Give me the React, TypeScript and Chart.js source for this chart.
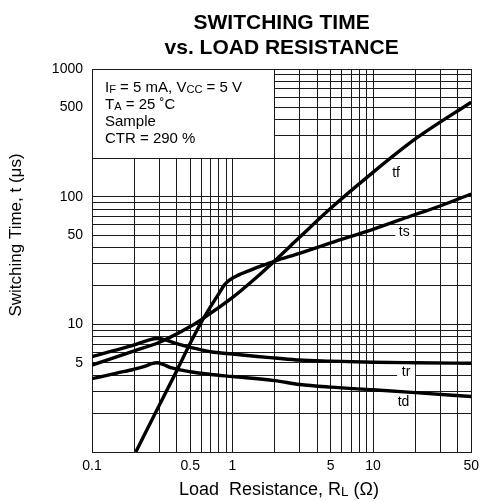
import { useEffect, useRef } from "react"
import { Chart, registerables } from "chart.js"

Chart.register(...registerables)

const FONT = '"Liberation Sans", Arial, Helvetica, sans-serif'

// load resistance (x) and switching time (y)
const tfX = [0.1, 0.2, 0.3, 0.5, 0.6, 0.97, 1.5, 2, 3, 5, 10, 20, 50]
const tfY = [4.8, 6.2, 7.2, 9.6, 10.9, 15.8, 23.6, 31.5, 48, 81, 155, 283, 550]

const tsX = [0.205, 0.3, 0.4, 0.5, 0.6, 0.7, 0.8, 0.87, 0.95, 1.1, 1.3, 1.6, 1.85, 2, 3, 5, 10, 20, 30, 50]
const tsY = [1.0, 2.3, 4.3, 7.1, 10.4, 13.8, 17.4, 20.2, 22.2, 24.3, 26.2, 28.7, 30.3, 31.3, 36, 43.4, 55.5, 72.5, 84.5, 105]

const trX = [0.1, 0.15, 0.2, 0.25, 0.29, 0.33, 0.38, 0.45, 0.55, 0.7, 1, 1.5, 2, 3, 5, 10, 20, 50]
const trY = [5.6, 6.3, 6.9, 7.5, 7.75, 7.6, 7.2, 6.8, 6.45, 6.1, 5.85, 5.6, 5.45, 5.25, 5.15, 5.05, 5.0, 4.95]

const tdX = [0.1, 0.15, 0.2, 0.24, 0.27, 0.29, 0.32, 0.37, 0.5, 0.7, 1, 2, 3, 5, 10, 20, 50]
const tdY = [3.75, 4.15, 4.45, 4.7, 4.95, 5.0, 4.85, 4.55, 4.25, 4.05, 3.9, 3.62, 3.38, 3.22, 3.07, 2.92, 2.72]

const xTickLabels = [0.1, 0.5, 1, 5, 10, 50]
const yTickLabels = [5, 10, 50, 100, 500, 1000]

// curve names and where they sit (data coords)
const curveLabels = ["tf", "ts", "tr", "td"]
const curveLabelX = [14.6, 16.7, 17.2, 16.5]
const curveLabelY = [152, 53.2, 4.26, 2.44]
const curveLabelBoxed = [false, true, true, true]

// condition box: spans x 0.1..2, y 200..1000
const boxX = [0.1, 2]
const boxY = [200, 1000]

type Part = [string, boolean?]
const conditionLines: Part[][] = [
  [["I"], ["F", true], [" = 5 mA, V"], ["CC", true], [" = 5 V"]],
  [["T"], ["A", true], [" = 25 \u02DAC"]],
  [["Sample"]],
  [["CTR = 290 %"]],
]

function logGrid(min: number, max: number) {
  const out: number[] = []
  for (let e = -2; e <= 4; e++) {
    for (let m = 1; m <= 9; m++) {
      const v = Number((m * Math.pow(10, e)).toPrecision(6))
      if (v >= min - 1e-9 && v <= max + 1e-9) out.push(v)
    }
  }
  return out
}

const xGrid = logGrid(0.1, 50)
const yGrid = logGrid(1, 1000)

const isLabel = (list: number[], v: number) => list.find((l) => Math.abs(l - v) / l < 1e-6)

function richWidth(ctx: CanvasRenderingContext2D, parts: Part[], size: number) {
  let w = 0
  for (const [t, sub] of parts) {
    ctx.font = `${sub ? size * 0.74 : size}px ${FONT}`
    w += ctx.measureText(t).width
  }
  return w
}

function drawRich(ctx: CanvasRenderingContext2D, parts: Part[], x: number, y: number, size: number) {
  let cx = x
  ctx.textAlign = "left"
  ctx.textBaseline = "alphabetic"
  for (const [t, sub] of parts) {
    ctx.font = `${sub ? size * 0.74 : size}px ${FONT}`
    ctx.fillText(t, cx, sub ? y + 1 : y)
    cx += ctx.measureText(t).width
  }
}

const lineStart = (p: number) => Math.round(p - 0.5)

const overlay = {
  id: "overlay",
  beforeDatasetsDraw(chart: any) {
    const { ctx, chartArea, scales } = chart
    const xs = scales.x
    const ys = scales.y
    ctx.save()
    // white condition box over the grid
    const x0 = lineStart(xs.getPixelForValue(boxX[0])) + 1
    const x1 = lineStart(xs.getPixelForValue(boxX[1]))
    const y0 = lineStart(ys.getPixelForValue(boxY[1])) + 1
    const y1 = lineStart(ys.getPixelForValue(boxY[0]))
    ctx.fillStyle = "#fff"
    ctx.fillRect(x0, y0, x1 - x0, y1 - y0)
    ctx.fillStyle = "#000"
    conditionLines.forEach((parts, i) => {
      drawRich(ctx, parts, chartArea.left + 13, chartArea.top + 23 + i * 16.9, 15)
    })
    // curve labels
    ctx.font = `14px ${FONT}`
    ctx.textAlign = "center"
    ctx.textBaseline = "middle"
    curveLabels.forEach((name, i) => {
      const px = xs.getPixelForValue(curveLabelX[i])
      const py = ys.getPixelForValue(curveLabelY[i])
      if (curveLabelBoxed[i]) {
        ctx.fillStyle = "#fff"
        ctx.fillRect(px - 9, py - 6, 18, 12)
      }
      ctx.fillStyle = "#000"
      ctx.fillText(name, px, py)
    })
    ctx.restore()
  },
  afterDraw(chart: any) {
    const { ctx, chartArea } = chart
    ctx.save()
    ctx.fillStyle = "#000"
    const cx = (chartArea.left + chartArea.right) / 2
    ctx.font = `bold 21px ${FONT}`
    ctx.textAlign = "center"
    ctx.textBaseline = "alphabetic"
    ctx.fillText("SWITCHING TIME", cx, 28.5)
    ctx.fillText("vs. LOAD RESISTANCE", cx, 53.5)

    // x axis title
    const xt: Part[] = [["Load  Resistance, R"], ["L", true], [" (\u03A9)"]]
    const w = richWidth(ctx, xt, 18)
    drawRich(ctx, xt, 279 - w / 2, 495, 18)

    // y axis title
    ctx.translate(20.5, 235)
    ctx.rotate(-Math.PI / 2)
    ctx.font = `17px ${FONT}`
    ctx.textAlign = "center"
    ctx.textBaseline = "alphabetic"
    ctx.fillText("Switching Time, t (\u03BCs)", 0, 0)
    ctx.restore()
  },
}

const series = [
  { label: "tf", xs: tfX, ys: tfY },
  { label: "ts", xs: tsX, ys: tsY },
  { label: "tr", xs: trX, ys: trY },
  { label: "td", xs: tdX, ys: tdY },
]

export default function App() {
  const chartRef = useRef<HTMLCanvasElement>(null)
  const chartInstance = useRef<Chart | null>(null)

  useEffect(() => {
    if (!chartRef.current) return
    if (chartInstance.current) chartInstance.current.destroy()
    const ctx = chartRef.current.getContext("2d")
    if (!ctx) return

    const gridColor = "#1a1a1a"

    chartInstance.current = new Chart(ctx, {
      type: "line",
      data: {
        datasets: series.map((s) => ({
          label: s.label,
          data: s.xs.map((x, i) => ({ x, y: s.ys[i] })),
          borderColor: "#000",
          borderWidth: 3.4,
          pointRadius: 0,
          cubicInterpolationMode: "monotone" as const,
          fill: false,
        })),
      },
      options: {
        animation: false,
        responsive: true,
        maintainAspectRatio: false,
        layout: { padding: { top: 69, right: 13, left: 0, bottom: 0 } },
        plugins: {
          legend: { display: false },
          tooltip: { enabled: false },
          title: { display: false },
        },
        scales: {
          x: {
            type: "logarithmic",
            min: 0.1,
            max: 50,
            afterBuildTicks: (s: any) => {
              s.ticks = xGrid.map((v) => ({ value: v }))
            },
            afterFit: (s: any) => {
              s.height = 50
            },
            grid: { color: gridColor, lineWidth: 1, drawTicks: false },
            border: { display: true, color: gridColor, width: 1 },
            ticks: {
              autoSkip: false,
              maxRotation: 0,
              padding: 6,
              color: "#000",
              font: { family: FONT, size: 14 },
              callback: (v: any) => {
                const l = isLabel(xTickLabels, Number(v))
                return l !== undefined ? String(l) : ""
              },
            },
          },
          y: {
            type: "logarithmic",
            min: 1,
            max: 1000,
            afterBuildTicks: (s: any) => {
              s.ticks = yGrid.map((v) => ({ value: v }))
            },
            afterFit: (s: any) => {
              s.width = 92
            },
            grid: { color: gridColor, lineWidth: 1, drawTicks: false },
            border: { display: true, color: gridColor, width: 1 },
            ticks: {
              autoSkip: false,
              padding: 9,
              color: "#000",
              font: { family: FONT, size: 14 },
              callback: (v: any) => {
                const l = isLabel(yTickLabels, Number(v))
                return l !== undefined ? String(l) : ""
              },
            },
          },
        },
      },
      plugins: [overlay],
    })

    return () => {
      if (chartInstance.current) {
        chartInstance.current.destroy()
        chartInstance.current = null
      }
    }
  }, [])

  return (
    <div style={{ position: "fixed", left: 0, top: 0, width: 485, height: 502, background: "#fff" }}>
      <canvas ref={chartRef} />
    </div>
  )
}
